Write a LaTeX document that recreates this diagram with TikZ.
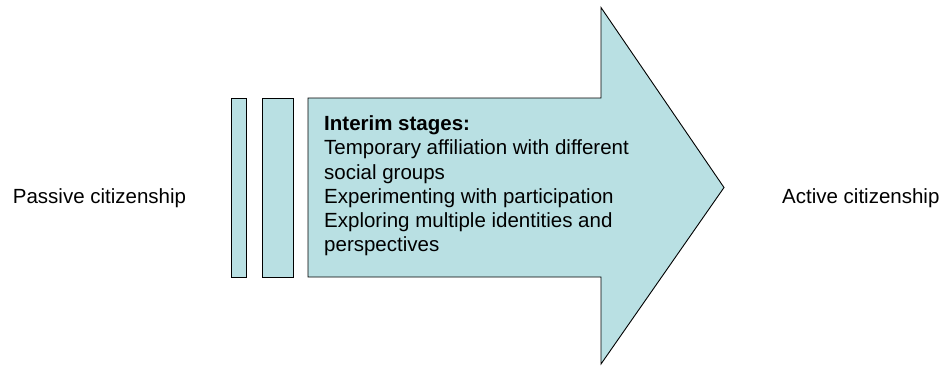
\documentclass[tikz,border=0pt]{standalone}
\usepackage{fontspec}
\setmainfont{Liberation Sans}
\usepackage{tikz}
\usetikzlibrary{positioning,calc}
\definecolor{stagefill}{RGB}{185,224,227}

\begin{document}
\begin{tikzpicture}[x=1pt,y=-1pt,
    stagebar/.style={draw=black,fill=stagefill,line width=0.9pt},
    label/.style={font=\fontsize{20.5}{24.2}\selectfont,inner sep=0pt}]
                    \useasboundingbox (0,0) rectangle (945,365);
                    \draw[stagebar] (231,98) rectangle (246,277);
                    \draw[stagebar] (262,98) rectangle (293,277);
                    \draw[stagebar,line join=miter] (308,98) -- (601,98) -- (601,7.5) -- (724,187.5)
                        -- (601,364) -- (601,277) -- (308,277) -- cycle;
                    \node[label,align=left,anchor=base west] (stages) at (324,251.7)
                        {\textbf{Interim stages:}\\Temporary affiliation with different\\social groups\\Experimenting with participation\\Exploring multiple identities and\\perspectives};
                    \node[label,anchor=base west] (passive) at (12.7,203) {Passive citizenship};
                    \node[label,anchor=base west] (active) at (782,203) {Active citizenship};
                \end{tikzpicture}
\end{document}
